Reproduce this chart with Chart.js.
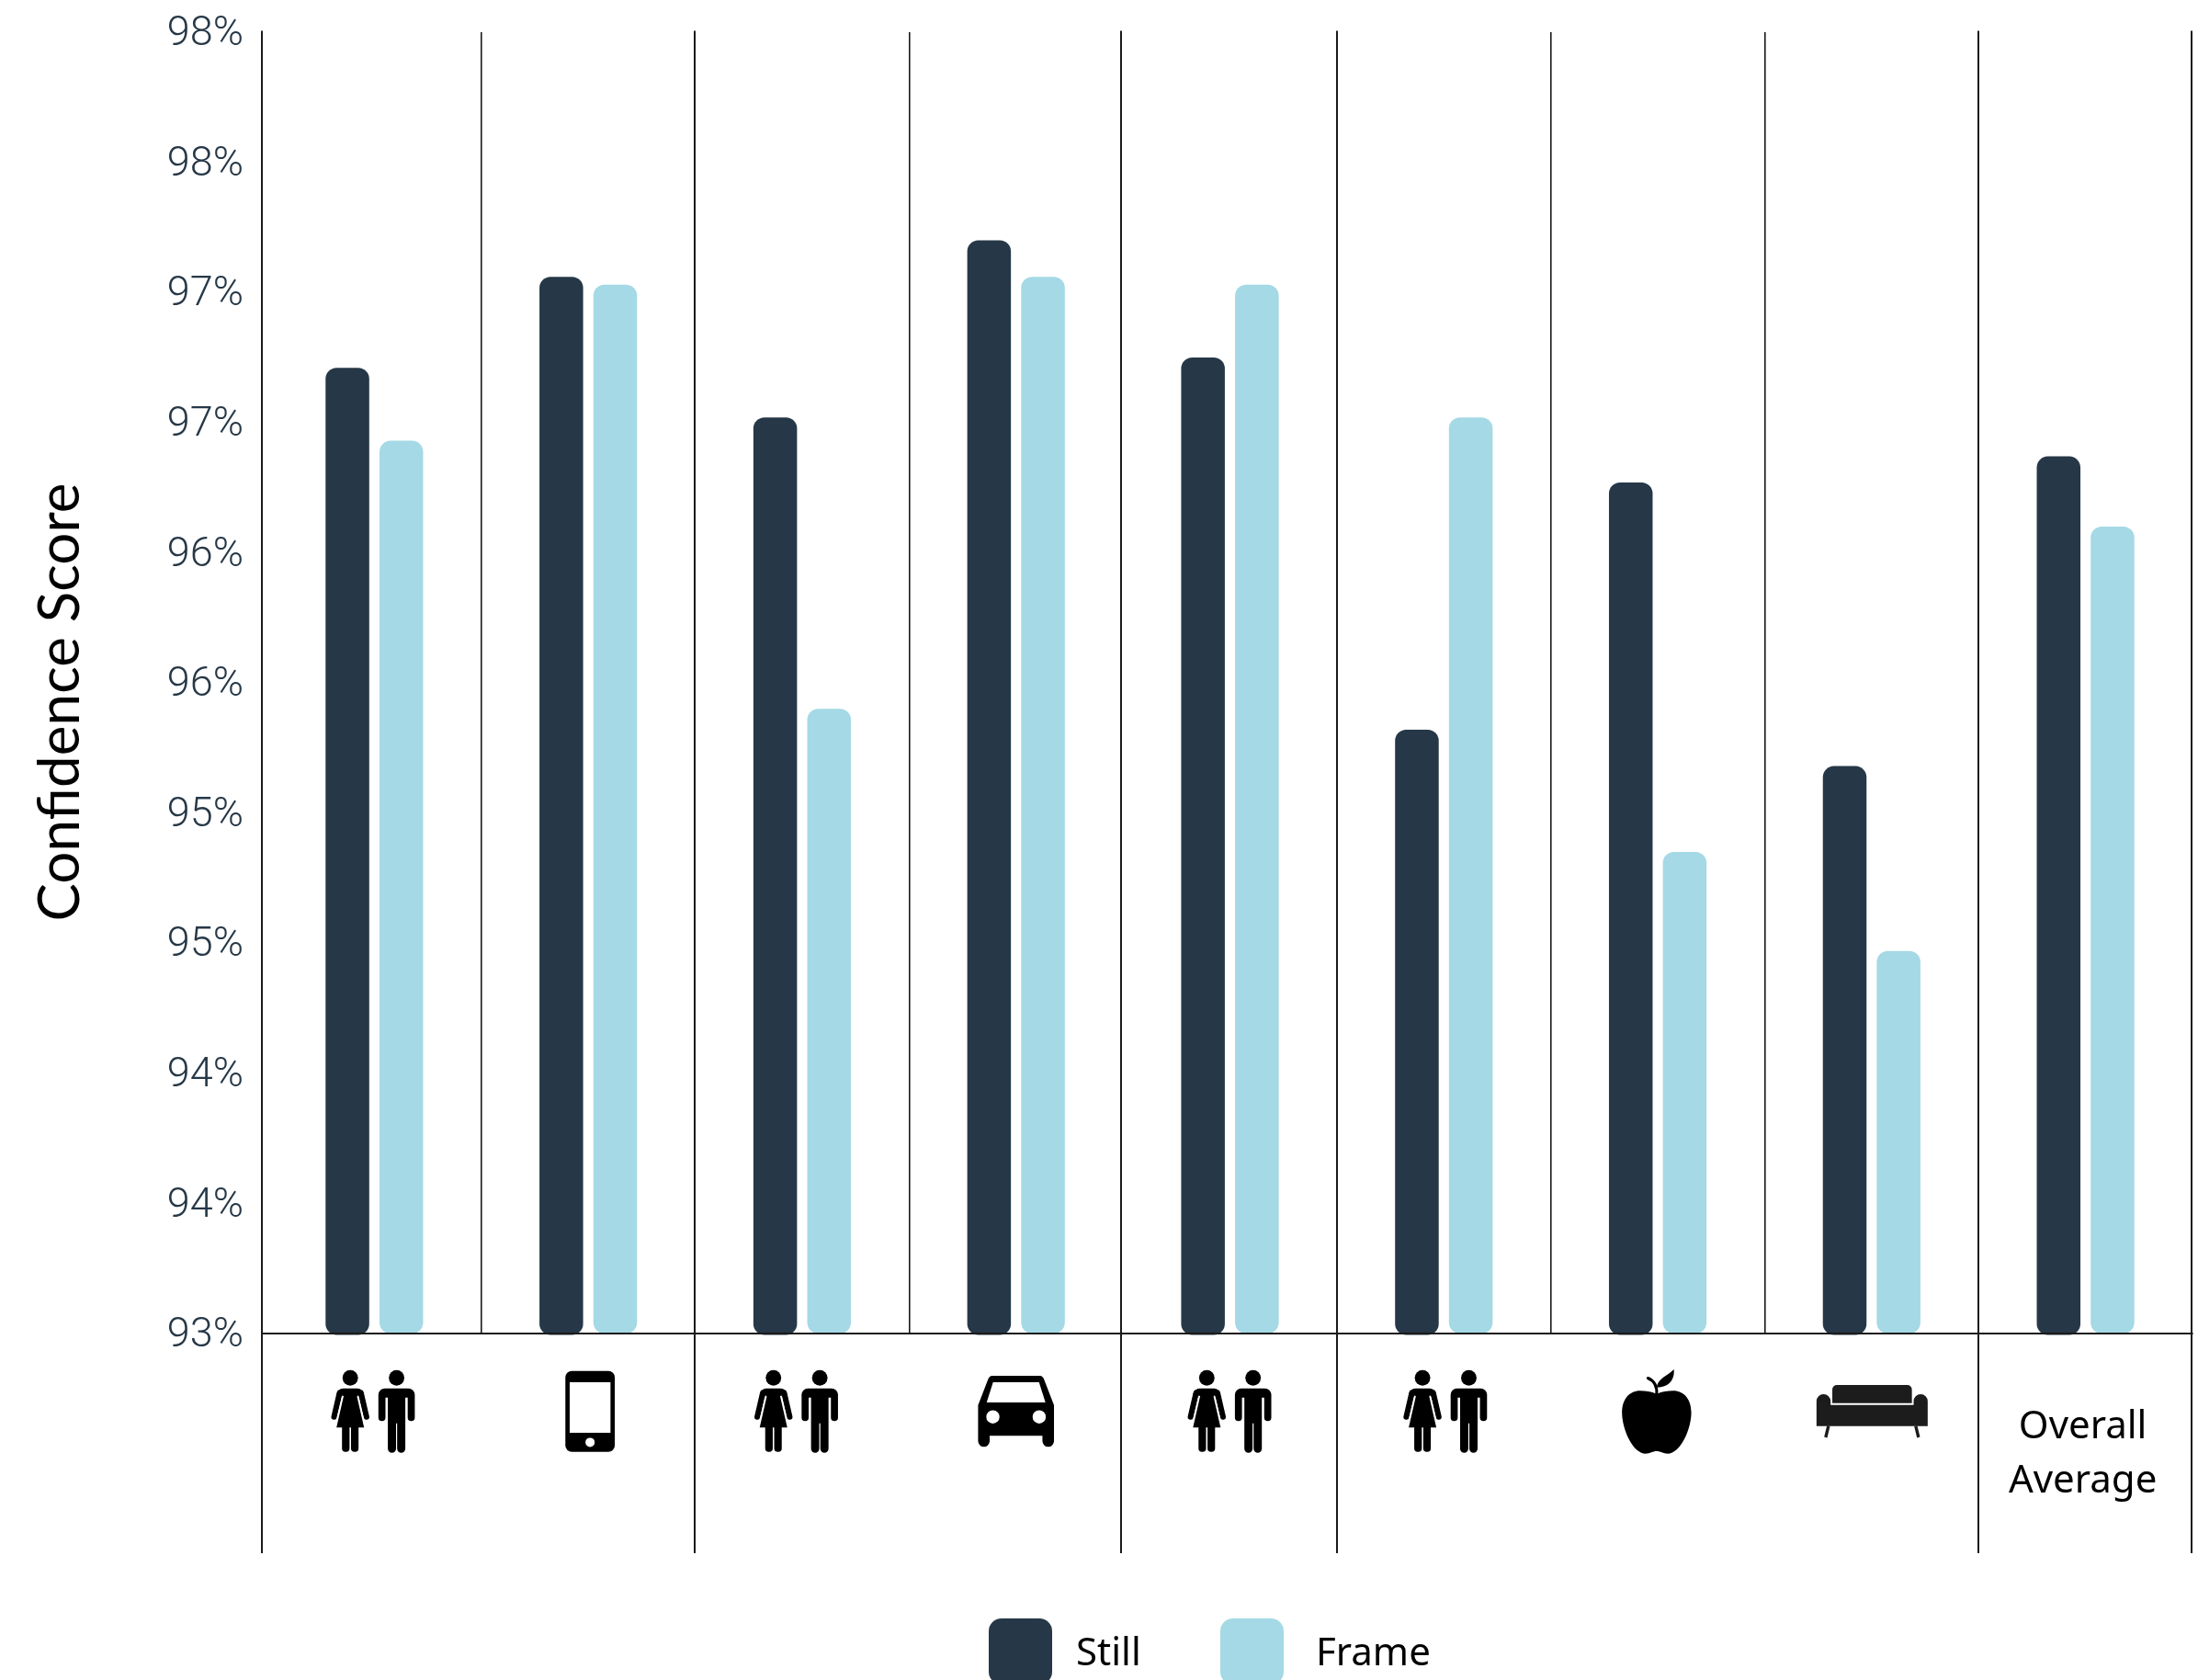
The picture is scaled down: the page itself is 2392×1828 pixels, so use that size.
<!DOCTYPE html>
<html>
<head>
<meta charset="utf-8">
<style>
  html, body { margin: 0; padding: 0; background: #ffffff; }
  canvas { display: block; }
</style>
<script src="https://cdn.jsdelivr.net/npm/chart.js@4/dist/chart.umd.min.js"></script>
</head>
<body>
<canvas id="chart" width="2392" height="1828"></canvas>
<script>
// Categories: eight subject groups shown as pictograms, then the overall average.
const categories = ['People', 'Phone', 'People', 'Car', 'People', 'People', 'Apple', 'Sofa', 'Overall Average'];
const stillValues = [96.71, 97.06, 96.52, 97.20, 96.75, 95.32, 96.27, 95.18, 96.37];
const frameValues = [96.43, 97.03, 95.40, 97.06, 97.03, 96.52, 94.85, 94.47, 96.10];
const tickLabels = ['93%', '94%', '94%', '95%', '95%', '96%', '96%', '97%', '97%', '98%', '98%'];
const overallLabel = ['Overall', 'Average'];
const seriesNames = ['Still', 'Frame'];

const DARK = '#263847';
const LIGHT = '#a4d9e5';
const LINE = '#1a1a1a';
const LABEL_FONT = '"Noto Sans"';
const TICK_FONT = 'Roboto';
const TITLE_FONT = 'Lato';

// Separators that continue below the baseline through the icon band, with their small offsets.
const longSeparators = [0, 2, 4, 5, 8, 9];
const separatorShift = { 0: -6, 2: -1, 4: -2, 9: -1 };
// Horizontal offset of each pictogram from its category centre.
const iconShift = [-1, 0, -6, 0, 0, 2, 0, 0, 0];

function rr(p, x, y, w, h, r) { p.roundRect(x, y, w, h, r); }

function drawPerson(ctx, female) {
  ctx.beginPath();
  ctx.ellipse(0, 8.5, 8.4, 8.5, 0, 0, Math.PI * 2);
  ctx.fill();
  if (female) {
    ctx.beginPath();
    rr(ctx, -14.7, 20, 29.4, 9, [7, 7, 0, 0]);
    ctx.fill();
    ctx.lineCap = 'round';
    ctx.lineWidth = 6.2;
    ctx.beginPath();
    ctx.moveTo(-11.6, 25); ctx.lineTo(-17.6, 51);
    ctx.moveTo(11.6, 25); ctx.lineTo(17.6, 51);
    ctx.stroke();
    // Thin white slits between the arms and the dress.
    ctx.save();
    ctx.strokeStyle = '#fff';
    ctx.lineCap = 'butt';
    ctx.lineWidth = 1.8;
    ctx.beginPath();
    ctx.moveTo(-8, 28); ctx.lineTo(-14.8, 56);
    ctx.moveTo(8, 28); ctx.lineTo(14.8, 56);
    ctx.stroke();
    ctx.restore();
    ctx.beginPath();
    ctx.moveTo(-6.2, 24); ctx.lineTo(6.2, 24); ctx.lineTo(15, 62.6); ctx.lineTo(-15, 62.6); ctx.closePath();
    rr(ctx, -9, 60, 8.2, 29, [0, 0, 3.8, 3.8]);
    rr(ctx, 0.8, 60, 8.2, 29, [0, 0, 3.8, 3.8]);
    ctx.fill();
  } else {
    ctx.beginPath();
    rr(ctx, -19.8, 20, 39.6, 10, [7, 7, 0, 0]);
    rr(ctx, -19.8, 26, 7.7, 29.6, [0, 0, 3.8, 3.8]);
    rr(ctx, 12.1, 26, 7.7, 29.6, [0, 0, 3.8, 3.8]);
    ctx.rect(-9.5, 20, 19, 38);
    rr(ctx, -9.5, 56.5, 8.9, 33.5, [0, 0, 4.4, 4.4]);
    rr(ctx, 0.6, 56.5, 8.9, 33.5, [0, 0, 4.4, 4.4]);
    ctx.fill();
  }
}

function drawPeople(ctx, cx, top) {
  ctx.fillStyle = '#000'; ctx.strokeStyle = '#000';
  ctx.save(); ctx.translate(cx - 25.2, top); drawPerson(ctx, true); ctx.restore();
  ctx.save(); ctx.translate(cx + 25.2, top); drawPerson(ctx, false); ctx.restore();
}

function drawPhone(ctx, cx, top) {
  ctx.save();
  ctx.translate(cx + 2, top + 1);
  ctx.fillStyle = '#000';
  ctx.beginPath(); rr(ctx, -26.9, 0, 53.8, 88, 7); ctx.fill();
  ctx.fillStyle = '#fff';
  ctx.fillRect(-22.2, 12.3, 44.4, 55);
  ctx.beginPath(); ctx.arc(0, 77.7, 5, 0, Math.PI * 2); ctx.fill();
  ctx.restore();
}

function drawCar(ctx, cx, top) {
  ctx.save();
  ctx.translate(cx, top + 6.3);
  ctx.fillStyle = '#000';
  ctx.beginPath();
  ctx.moveTo(-26, 0); ctx.lineTo(26, 0);
  ctx.quadraticCurveTo(29, 0, 30.5, 4);
  ctx.lineTo(41.3, 32); ctx.lineTo(41.3, 71);
  ctx.arc(35, 71, 6.3, 0, Math.PI);
  ctx.lineTo(28.7, 65.3); ctx.lineTo(-28.7, 65.3); ctx.lineTo(-28.7, 71);
  ctx.arc(-35, 71, 6.3, 0, Math.PI);
  ctx.lineTo(-41.3, 32); ctx.lineTo(-30.5, 4);
  ctx.quadraticCurveTo(-29, 0, -26, 0);
  ctx.closePath();
  ctx.fill();
  ctx.fillStyle = '#fff';
  ctx.beginPath();
  ctx.moveTo(-25, 7); ctx.lineTo(25, 7); ctx.lineTo(32, 29); ctx.lineTo(-32, 29); ctx.closePath();
  ctx.fill();
  ctx.beginPath();
  ctx.arc(-25.2, 44.7, 7.2, 0, Math.PI * 2);
  ctx.arc(25.2, 44.7, 7.2, 0, Math.PI * 2);
  ctx.fill();
  ctx.restore();
}

function drawApple(ctx, cx, top) {
  ctx.save();
  ctx.translate(cx - 1.2, top - 0.7);
  ctx.fillStyle = '#000'; ctx.strokeStyle = '#000';
  ctx.beginPath();
  ctx.moveTo(0, 26.7);
  ctx.bezierCurveTo(-6, 24, -12, 23.3, -18, 23.3);
  ctx.bezierCurveTo(-30, 23.3, -37.7, 33, -37.7, 47);
  ctx.bezierCurveTo(-37.7, 65, -26, 91.7, -12, 91.7);
  ctx.bezierCurveTo(-7, 91.7, -4, 89, 0, 89);
  ctx.bezierCurveTo(4, 89, 7, 91.7, 12, 91.7);
  ctx.bezierCurveTo(26, 91.7, 37.7, 65, 37.7, 47);
  ctx.bezierCurveTo(37.7, 33, 30, 23.3, 18, 23.3);
  ctx.bezierCurveTo(12, 23.3, 6, 24, 0, 26.7);
  ctx.closePath();
  ctx.fill();
  // Stem
  ctx.lineWidth = 3;
  ctx.lineCap = 'round';
  ctx.beginPath();
  ctx.moveTo(0, 27); ctx.quadraticCurveTo(1, 14, -9.5, 9.5);
  ctx.stroke();
  // Leaf
  ctx.beginPath();
  ctx.moveTo(0, 19.5);
  ctx.bezierCurveTo(1, 10, 12, 7, 18.7, 0);
  ctx.bezierCurveTo(20, 10, 14, 20, 0, 19.5);
  ctx.closePath();
  ctx.fill();
  ctx.restore();
}

function drawSofa(ctx, cx, top) {
  ctx.save();
  ctx.translate(cx + 0.5, top + 16.3);
  ctx.fillStyle = '#1c1c1c'; ctx.strokeStyle = '#1c1c1c';
  ctx.beginPath();
  rr(ctx, -60.5, 10, 15.3, 34.7, [7.6, 7.6, 0, 0]);
  rr(ctx, 45.2, 10, 15.3, 34.7, [7.6, 7.6, 0, 0]);
  ctx.rect(-60.5, 21.7, 121, 23);
  ctx.fill();
  ctx.beginPath();
  rr(ctx, -43.3, 0, 86.6, 19.7, [5, 5, 0, 0]);
  ctx.fill();
  ctx.lineWidth = 3.4;
  ctx.beginPath();
  ctx.moveTo(-47.5, 44.7); ctx.lineTo(-50.5, 57);
  ctx.moveTo(47.5, 44.7); ctx.lineTo(50.5, 57);
  ctx.stroke();
  ctx.restore();
}

const iconPainters = { People: drawPeople, Phone: drawPhone, Car: drawCar, Apple: drawApple, Sofa: drawSofa };

// Paints the axis title, the pictogram row, the group separators and the legend.
const decorations = {
  id: 'decorations',
  afterDraw(chart) {
    const { ctx, chartArea: area, scales: { x } } = chart;
    const step = x.getPixelForValue(1) - x.getPixelForValue(0);
    const edge = i => x.getPixelForValue(0) + (i - 0.5) * step;

    ctx.save();
    ctx.strokeStyle = LINE;
    ctx.lineWidth = 2;
    longSeparators.forEach(i => {
      const px = Math.round(edge(i) + (separatorShift[i] || 0) - 1) + 1;
      ctx.beginPath();
      ctx.moveTo(px, area.top - 1.5);
      ctx.lineTo(px, 1690);
      ctx.stroke();
    });
    ctx.beginPath();
    ctx.moveTo(area.left - 6, Math.round(area.bottom));
    ctx.lineTo(area.left, Math.round(area.bottom));
    ctx.stroke();

    categories.forEach((name, i) => {
      const paint = iconPainters[name];
      if (paint) paint(ctx, x.getPixelForValue(i) + iconShift[i], area.bottom + 39.7);
    });

    ctx.fillStyle = '#000';
    ctx.textBaseline = 'alphabetic';
    ctx.textAlign = 'center';
    ctx.font = '400 42px ' + LABEL_FONT;
    overallLabel.forEach((line, k) => ctx.fillText(line, x.getPixelForValue(8) - 3, 1565 + k * 59));

    ctx.save();
    ctx.translate(86, 764);
    ctx.rotate(-Math.PI / 2);
    ctx.font = '400 62px ' + TITLE_FONT;
    ctx.fillText('Confidence Score', 0, 0);
    ctx.restore();

    const boxes = [1076, 1328];
    const texts = [1171, 1432];
    ctx.textAlign = 'left';
    ctx.font = '400 42px ' + LABEL_FONT;
    chart.data.datasets.forEach((ds, i) => {
      ctx.fillStyle = ds.backgroundColor;
      ctx.beginPath();
      rr(ctx, boxes[i], 1761, 69, 72, 14);
      ctx.fill();
      ctx.fillStyle = '#000';
      ctx.fillText(ds.label, texts[i], 1812);
    });
    ctx.restore();
  }
};

new Chart(document.getElementById('chart'), {
  type: 'bar',
  data: {
    labels: categories,
    datasets: [
      { label: seriesNames[0], data: stillValues, backgroundColor: DARK, base: 92.995 },
      { label: seriesNames[1], data: frameValues, backgroundColor: LIGHT, base: 93 }
    ]
  },
  plugins: [decorations],
  options: {
    responsive: false,
    animation: false,
    layout: { padding: { left: 0, right: 6, top: 35, bottom: 0 } },
    datasets: {
      bar: {
        barPercentage: 0.81,
        categoryPercentage: 0.504,
        borderRadius: 12,
        borderSkipped: false,
        clip: false
      }
    },
    plugins: { legend: { display: false }, tooltip: { enabled: false } },
    scales: {
      x: {
        offset: true,
        afterFit(scale) { scale.height = 377; scale.paddingLeft = 0; scale.paddingRight = 0; },
        ticks: { display: false },
        grid: {
          offset: true,
          drawTicks: false,
          // Only the thin separators come from the grid; the long ones are painted above.
          color: ctx => (ctx.index === undefined || longSeparators.includes(ctx.index) ? 'rgba(0,0,0,0)' : LINE),
          lineWidth: 1.6
        },
        border: { display: true, color: LINE, width: 2, z: 1 }
      },
      y: {
        min: 93,
        max: 98,
        afterFit(scale) { scale.width = 291; scale.paddingTop = 0; scale.paddingBottom = 0; },
        afterBuildTicks(scale) {
          scale.ticks = tickLabels.map((_, i) => ({ value: 93 + i * 0.5 }));
        },
        ticks: {
          autoSkip: false,
          padding: 26,
          labelOffset: 3,
          color: DARK,
          font: { family: TICK_FONT, size: 45, weight: '300' },
          callback: (v, i) => tickLabels[i]
        },
        grid: { display: false, drawTicks: false },
        border: { display: false }
      }
    }
  }
});
</script>
</body>
</html>
